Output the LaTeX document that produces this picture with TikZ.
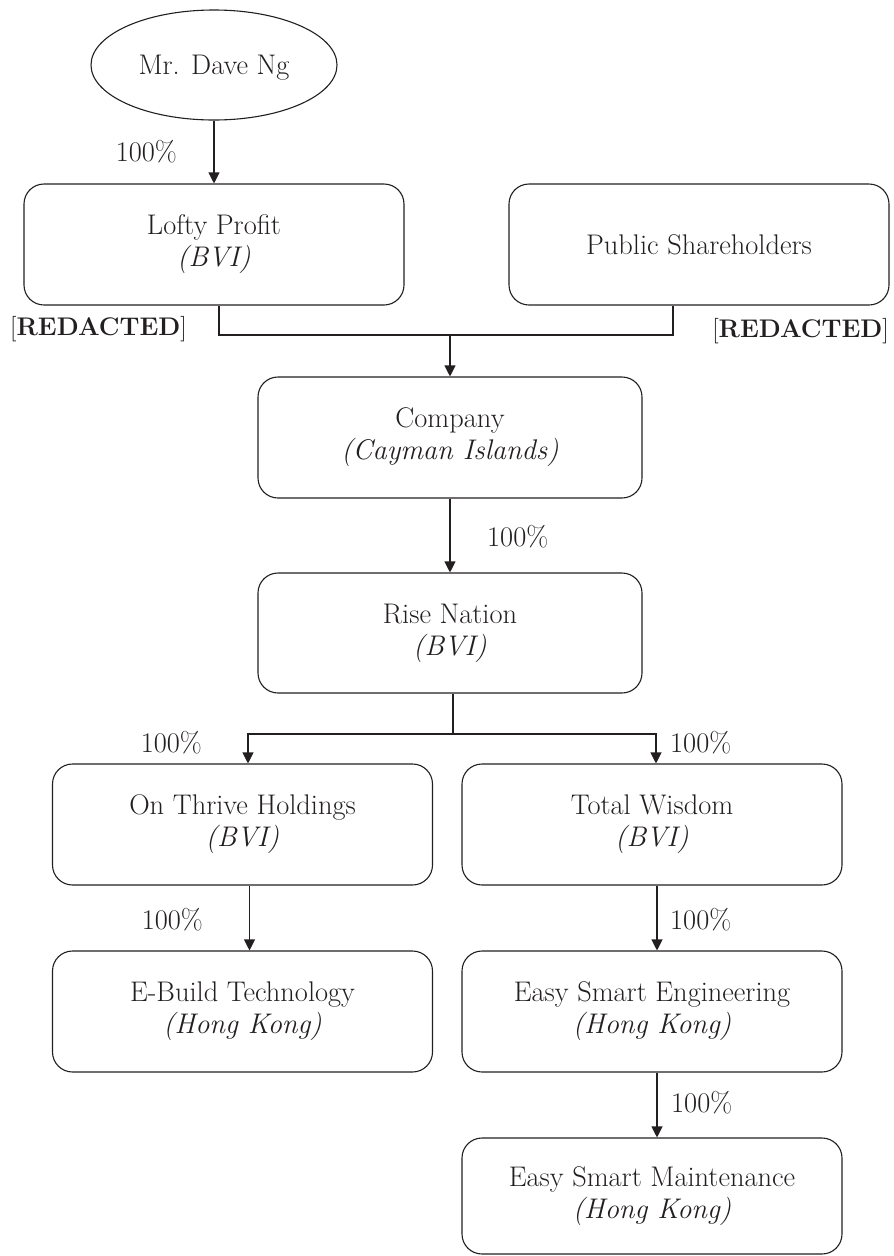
\documentclass[tikz,border=0pt]{standalone}
\usetikzlibrary{arrows.meta,shapes.geometric}
\definecolor{ink}{RGB}{35,31,32}
\newcommand\bigf{\fontsize{28.4}{32}\selectfont}
\newcommand\redf{\fontsize{25.5}{28}\selectfont}
\tikzset{
  box/.style={draw=ink, line width=1.1pt, rounded corners=20pt, minimum width=380pt,
    minimum height=121pt, align=center, font=\bigf, text=ink, inner sep=0pt},
  pct/.style={font=\bigf, text=ink, inner sep=0pt},
  redact/.style={font=\redf, text=ink, inner sep=0pt},
  link/.style={draw=ink, line width=1.1pt},
  arr/.style={link, -{Triangle[length=11pt,width=11pt]}},
}
\begin{document}
\begin{tikzpicture}[x=1pt,y=-1pt]
\useasboundingbox (0,0) rectangle (894,1256);
\node[ellipse, draw=ink, line width=1.1pt, minimum width=246pt, minimum height=110pt,
  inner sep=0pt, font=\bigf, text=ink, text depth=0pt] (dave) at (214,65) {Mr. Dave Ng};
\node[box] (lofty) at (214,244.5) {Lofty Profit\\\textit{(BVI)}};
\node[box] (public) at (699,244.5) {Public Shareholders};
\node[box, minimum width=384pt] (company) at (450,437.5) {Company\\\textit{(Cayman Islands)}};
\node[box, minimum width=384pt, minimum height=120pt] (rise) at (450,633) {Rise Nation\\\textit{(BVI)}};
\node[box] (onthrive) at (242.5,824.5) {On Thrive Holdings\\\textit{(BVI)}};
\node[box] (tw) at (652,824.5) {Total Wisdom\\\textit{(BVI)}};
\node[box] (ebuild) at (242.5,1011.5) {E-Build Technology\\\textit{(Hong Kong)}};
\node[box] (ese) at (652,1011.5) {Easy Smart Engineering\\\textit{(Hong Kong)}};
\node[box, minimum height=116pt] (esm) at (652,1196) {Easy Smart Maintenance\\\textit{(Hong Kong)}};

\node[pct, anchor=base east] (p1) at (177,161) {100\%};
\node[pct, anchor=base west] (p2) at (487,546) {100\%};
\node[pct, anchor=base east] (p3) at (202,752) {100\%};
\node[pct, anchor=base west] (p4) at (670,752) {100\%};
\node[pct, anchor=base east] (p5) at (203,929) {100\%};
\node[pct, anchor=base west] (p6) at (670,929) {100\%};
\node[pct, anchor=base west] (p7) at (671,1112) {100\%};
\node[redact, anchor=base west] (r1) at (10,335) {[\textbf{REDACTED}]};
\node[redact, anchor=base east] (r2) at (889,337) {[\textbf{REDACTED}]};

\draw[arr] (dave) -- (lofty);
\coordinate (j1) at (450,335);
\draw[link] ([xshift=5pt]lofty.south) |- (j1);
\draw[link] ([xshift=-26pt]public.south) |- (j1);
\draw[arr] (j1) -- (company.north);
\draw[arr] (company) -- (rise);
\coordinate (j2) at (453,734);
\draw[link] (rise.south -| j2) -- (j2);
\draw[arr] (j2) -| ([xshift=5.5pt]onthrive.north);
\draw[arr] (j2) -| ([xshift=4pt]tw.north);
\draw[arr] ([xshift=7pt]onthrive.south) -- ([xshift=7pt]ebuild.north);
\draw[arr] ([xshift=5pt]tw.south) -- ([xshift=5pt]ese.north);
\draw[arr] ([xshift=5pt]ese.south) -- ([xshift=5pt]esm.north);
\end{tikzpicture}
\end{document}
